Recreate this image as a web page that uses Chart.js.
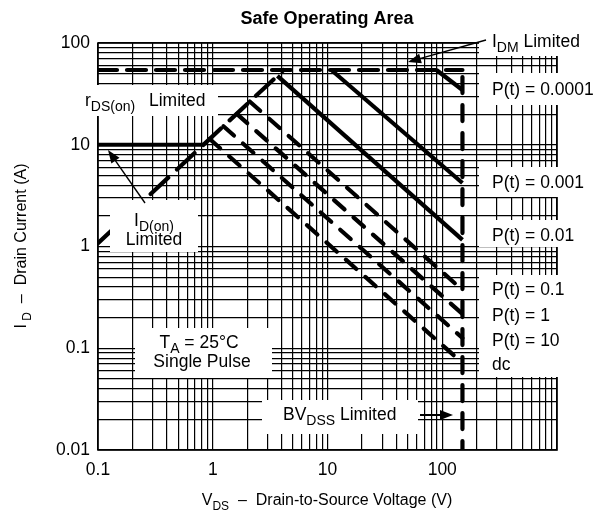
<!DOCTYPE html>
<html>
<head>
<meta charset="utf-8">
<script src="https://cdn.jsdelivr.net/npm/chart.js@4.4.1/dist/chart.umd.min.js"></script>
<style>
    html, body { margin: 0; padding: 0; background: #fff; }
    #wrap { width: 595px; height: 526px; }
</style>
</head>
<body>
<div id="wrap"><canvas id="soaChart" width="595" height="526"></canvas></div>
<script>
// Axis ranges and labelled decades (grid runs on to 1000 V unlabelled)
const xRange = [0.1, 1000];
const yRange = [0.01, 100];
const xLabelled = [0.1, 1, 10, 100];
const yLabelled = [0.01, 0.1, 1, 10, 100];

// Limit lines, [V, A] pairs
const idOnLimit = [[0.1, 10], [0.83, 10]];
const rdsOnLimit = [[0.1, 1.08], [4.15, 54.3]];
const idmLimit = [[0.1, 54.3], [150, 54.3]];
const bvdssLimit = [[150, 46.3], [150, 0.01]];

// Single pulse curves, P(t) in seconds
const pulse00001 = [[89, 54.3], [150, 34.5]];
const pulse0001 = [[10.8, 54.3], [150, 4.21]];
const pulse001 = [[3.66, 47.5], [150, 1.16]];
const pulse01 = [[2.1, 26.6], [150, 0.374]];
const pulse1 = [[1.62, 20.1], [150, 0.217]];
const pulse10 = [[1.24, 15.2], [150, 0.126]];
const pulseDc = [[0.94, 11.4], [150, 0.0716]];

const FONT = '"Liberation Sans", Arial, Helvetica, sans-serif';
const FS = 17.5;

function toPoints(pairs) {
    return pairs.map(p => ({ x: p[0], y: p[1] }));
}

// every 1..9 x 10^n between min and max
function logTicks(min, max) {
    const out = [];
    const e0 = Math.round(Math.log10(min));
    const e1 = Math.round(Math.log10(max));
    for (let e = e0; e < e1; e++) {
        for (let m = 1; m < 10; m++) out.push(Number((m * Math.pow(10, e)).toPrecision(2)));
    }
    out.push(max);
    return out;
}

function line(pairs, dash, cap) {
    return {
        data: toPoints(pairs),
        borderColor: '#000',
        borderWidth: 4.2,
        borderDash: dash || [],
        borderCapStyle: cap || 'butt',
        pointRadius: 0,
        fill: false,
        tension: 0
    };
}

// text with subscripts: parts = [[text, isSub], ...]
function drawRich(ctx, parts, x, y, align, size) {
    const big = size + 'px ' + FONT;
    const small = Math.round(size * 0.78) + 'px ' + FONT;
    let total = 0;
    parts.forEach(p => { ctx.font = p[1] ? small : big; total += ctx.measureText(p[0]).width; });
    let cx = align === 'center' ? x - total / 2 : x;
    ctx.textAlign = 'left';
    ctx.textBaseline = 'alphabetic';
    parts.forEach(p => {
        ctx.font = p[1] ? small : big;
        ctx.fillText(p[0], cx, p[1] ? y + 5 : y);
        cx += ctx.measureText(p[0]).width;
    });
}

function arrow(ctx, x1, y1, x2, y2, w, head) {
    const a = Math.atan2(y2 - y1, x2 - x1);
    ctx.lineWidth = w;
    ctx.beginPath();
    ctx.moveTo(x1, y1);
    ctx.lineTo(x2 - Math.cos(a) * head * 0.8, y2 - Math.sin(a) * head * 0.8);
    ctx.stroke();
    ctx.beginPath();
    ctx.moveTo(x2, y2);
    ctx.lineTo(x2 - head * Math.cos(a) + head * 0.38 * Math.sin(a), y2 - head * Math.sin(a) - head * 0.38 * Math.cos(a));
    ctx.lineTo(x2 - head * Math.cos(a) - head * 0.38 * Math.sin(a), y2 - head * Math.sin(a) + head * 0.38 * Math.cos(a));
    ctx.closePath();
    ctx.fill();
}

// white label boxes over the grid, then text and arrows
const notes = {
    id: 'notes',
    beforeDatasetsDraw(chart) {
        const { ctx, chartArea: a } = chart;
        ctx.save();
        ctx.strokeStyle = '#000';
        ctx.lineWidth = 1.6;
        ctx.strokeRect(a.left, a.top, a.right - a.left, a.bottom - a.top);
        ctx.restore();
    },
    afterDatasetsDraw(chart) {
        const { ctx } = chart;
        ctx.save();
        ctx.fillStyle = '#fff';
        [
            [82, 85, 136, 31],     // rDS(on)
            [110, 200, 88, 52],    // ID(on)
            [135, 328, 137, 50],   // TA
            [262, 400, 156, 34],   // BVDSS
            [479, 26, 116, 30],    // IDM
            [479, 73, 116, 32],
            [479, 167, 116, 30],
            [479, 220, 116, 27],
            [479, 275, 116, 102]
        ].forEach(r => ctx.fillRect(r[0], r[1], r[2], r[3]));

        ctx.fillStyle = '#000';
        ctx.strokeStyle = '#000';
        drawRich(ctx, [['r', false], ['DS(on)', true]], 85, 106, 'left', FS);
        drawRich(ctx, [['Limited', false]], 149, 106, 'left', FS);
        drawRich(ctx, [['I', false], ['D(on)', true]], 154, 226, 'center', FS);
        drawRich(ctx, [['Limited', false]], 154, 245, 'center', FS);
        drawRich(ctx, [['T', false], ['A', true], [' = 25\u00B0C', false]], 199, 348, 'center', FS);
        drawRich(ctx, [['Single Pulse', false]], 202, 367, 'center', FS);
        drawRich(ctx, [['BV', false], ['DSS', true], [' Limited', false]], 283, 420, 'left', FS);
        drawRich(ctx, [['I', false], ['DM', true], [' Limited', false]], 492, 47, 'left', FS);
        drawRich(ctx, [['P(t) = 0.0001', false]], 492, 95, 'left', FS);
        drawRich(ctx, [['P(t) = 0.001', false]], 492, 188, 'left', FS);
        drawRich(ctx, [['P(t) = 0.01', false]], 492, 241, 'left', FS);
        drawRich(ctx, [['P(t) = 0.1', false]], 492, 295, 'left', FS);
        drawRich(ctx, [['P(t) = 1', false]], 492, 321, 'left', FS);
        drawRich(ctx, [['P(t) = 10', false]], 492, 346, 'left', FS);
        drawRich(ctx, [['dc', false]], 492, 370, 'left', FS);

        arrow(ctx, 486, 40, 408, 62, 1.4, 13);
        arrow(ctx, 145, 203, 108, 150, 1.4, 13);
        arrow(ctx, 420, 415, 453, 415, 2, 13);

        // title and axis titles
        ctx.font = 'bold 18px ' + FONT;
        ctx.textAlign = 'center';
        ctx.fillText('Safe Operating Area', 327, 24);
        drawRich(ctx, [['V', false], ['DS', true], ['  \u2013  Drain-to-Source Voltage (V)', false]], 327, 505, 'center', 16);
        ctx.translate(26, 246);
        ctx.rotate(-Math.PI / 2);
        drawRich(ctx, [['I', false], [' D', true], ['  \u2013  Drain Current (A)', false]], 0, 0, 'center', 16);
        ctx.restore();
    }
};

const dashP = [14, 12];
new Chart(document.getElementById('soaChart'), {
    type: 'line',
    data: {
        datasets: [
            line(idOnLimit),
            line(rdsOnLimit, [24, 12], 'round'),
            line(idmLimit, [19, 10], 'round'),
            line(bvdssLimit, [16, 12], 'round'),
            line(pulse00001),
            line(pulse0001),
            line(pulse001),
            line(pulse01, dashP, 'round'),
            line(pulse1, dashP, 'round'),
            line(pulse10, dashP, 'round'),
            line(pulseDc, dashP, 'round')
        ]
    },
    options: {
        responsive: false,
        animation: false,
        events: [],
        layout: { padding: { top: 43, right: 38, left: 0, bottom: 0 } },
        plugins: { legend: { display: false }, title: { display: false }, tooltip: { enabled: false } },
        scales: {
            x: {
                type: 'logarithmic',
                min: xRange[0],
                max: xRange[1],
                afterBuildTicks: s => { s.ticks = logTicks(xRange[0], xRange[1]).map(v => ({ value: v })); },
                afterFit: s => { s.height = 76; },
                grid: { color: '#000', lineWidth: 1.2, drawTicks: false },
                border: { display: false },
                ticks: {
                    autoSkip: false, maxRotation: 0, padding: 10, color: '#000',
                    font: { family: FONT, size: FS },
                    callback: v => xLabelled.includes(v) ? String(v) : ''
                }
            },
            y: {
                type: 'logarithmic',
                min: yRange[0],
                max: yRange[1],
                afterBuildTicks: s => { s.ticks = logTicks(yRange[0], yRange[1]).map(v => ({ value: v })); },
                afterFit: s => { s.width = 98; },
                grid: { color: '#000', lineWidth: 1.2, drawTicks: false },
                border: { display: false },
                ticks: {
                    autoSkip: false, padding: 8, color: '#000',
                    font: { family: FONT, size: FS },
                    callback: v => yLabelled.includes(v) ? String(v) : ''
                }
            }
        }
    },
    plugins: [notes]
});
</script>
</body>
</html>
